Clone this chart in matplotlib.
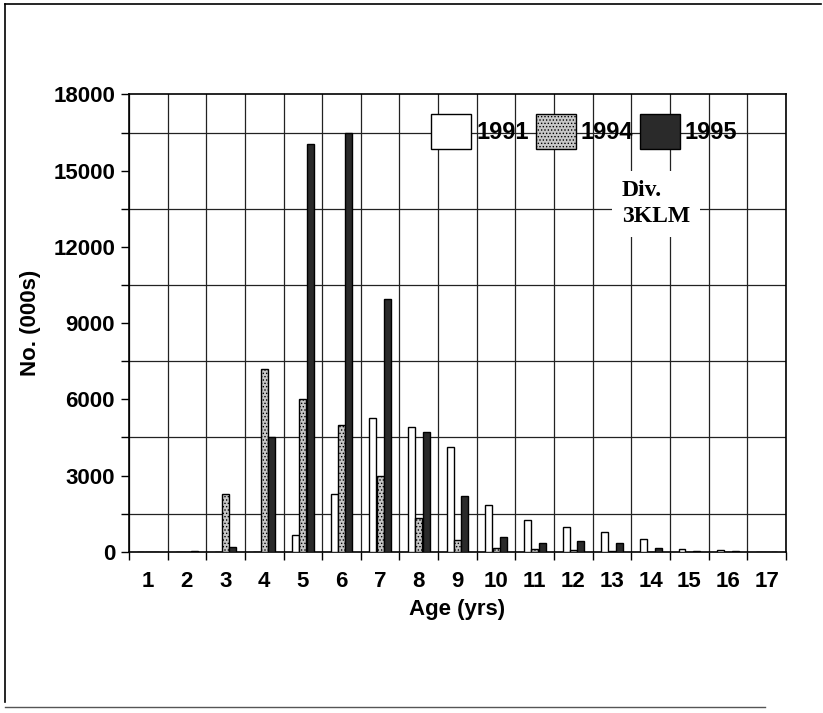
import numpy as np
import matplotlib
matplotlib.use('Agg')
import matplotlib.pyplot as plt
from matplotlib.lines import Line2D
from matplotlib.patches import Patch

ages = list(range(1, 18))
n_1991 = [0, 0, 0, 0, 660, 2270, 5260, 4920, 4120, 1840, 1230, 960, 770, 500, 100, 50, 0]
n_1994 = [0, 0, 2270, 7210, 6030, 4980, 2980, 1320, 470, 145, 120, 80, 10, 0, 0, 0, 0]
n_1995 = [0, 30, 180, 4520, 16050, 16500, 9960, 4720, 2210, 580, 330, 430, 330, 160, 30, 20, 0]
years = ['1991', '1994', '1995']
yticks = [0, 3000, 6000, 9000, 12000, 15000, 18000]

plt.rcParams['font.family'] = ['Liberation Sans', 'DejaVu Sans']
plt.rcParams['hatch.linewidth'] = 0.6

fig = plt.figure(figsize=(8.23, 7.13), dpi=100)
ax = fig.add_axes([0.1567, 0.2262, 0.7983, 0.6413])

x = np.array(ages)
w = 0.18
step = 0.19
styles = [dict(facecolor='white', edgecolor='black'),
          dict(facecolor='#c8c8c8', edgecolor='black', hatch='.....'),
          dict(facecolor='#2a2a2a', edgecolor='black', hatch='::')]
for k, vals in enumerate([n_1991, n_1994, n_1995]):
    ax.bar(x + (k - 1) * step, vals, width=w, linewidth=1.0, zorder=3, **styles[k])

ax.set_xlim(0.5, 17.5)
ax.set_ylim(0, 18000)
ax.set_yticks(yticks)
ax.set_yticks(np.arange(0, 18001, 1500), minor=True)
ax.set_xticks(x)
ax.set_xticks(np.arange(0.5, 17.6, 1), minor=True)
ax.tick_params(axis='x', which='major', length=0, pad=14, labelsize=16)
ax.tick_params(axis='x', which='minor', length=6, direction='out', width=1)
ax.tick_params(axis='y', which='both', length=6, direction='out', width=1, labelsize=16, pad=4)
for lab in ax.get_xticklabels() + ax.get_yticklabels():
    lab.set_fontweight('bold')

ax.grid(True, which='minor', color='#222222', linewidth=0.9, zorder=0)
ax.set_axisbelow(True)
for sp in ax.spines.values():
    sp.set_linewidth(1.2)

ax.set_xlabel('Age (yrs)', fontsize=16, fontweight='bold', labelpad=5)
ax.set_ylabel('No. (000s)', fontsize=16, fontweight='bold', labelpad=9)

handles = [Patch(linewidth=1.0, **s) for s in styles]
leg = ax.legend(handles, years, ncol=3, loc='center left', bbox_to_anchor=(0.46, 0.92),
                frameon=False, prop={'weight': 'bold', 'size': 17},
                handlelength=1.7, handleheight=1.9, handletextpad=0.2,
                columnspacing=0.3, borderaxespad=0, borderpad=0)

ax.text(0.75, 0.812, 'Div.\n3KLM', transform=ax.transAxes, ha='left', va='top',
        fontsize=17, fontweight='bold', family='Liberation Serif', linespacing=1.3,
        bbox=dict(facecolor='white', edgecolor='none', pad=7), zorder=4)

# outer frame of the scanned page
fig.add_artist(Line2D([0.006, 0.006], [0.015, 0.994], color='black', lw=1.2, transform=fig.transFigure))
fig.add_artist(Line2D([0.006, 0.998], [0.994, 0.994], color='black', lw=1.2, transform=fig.transFigure))
fig.add_artist(Line2D([0.006, 0.93], [0.008, 0.008], color='#555555', lw=1.0, transform=fig.transFigure))

fig.savefig('out.png', dpi=100)
